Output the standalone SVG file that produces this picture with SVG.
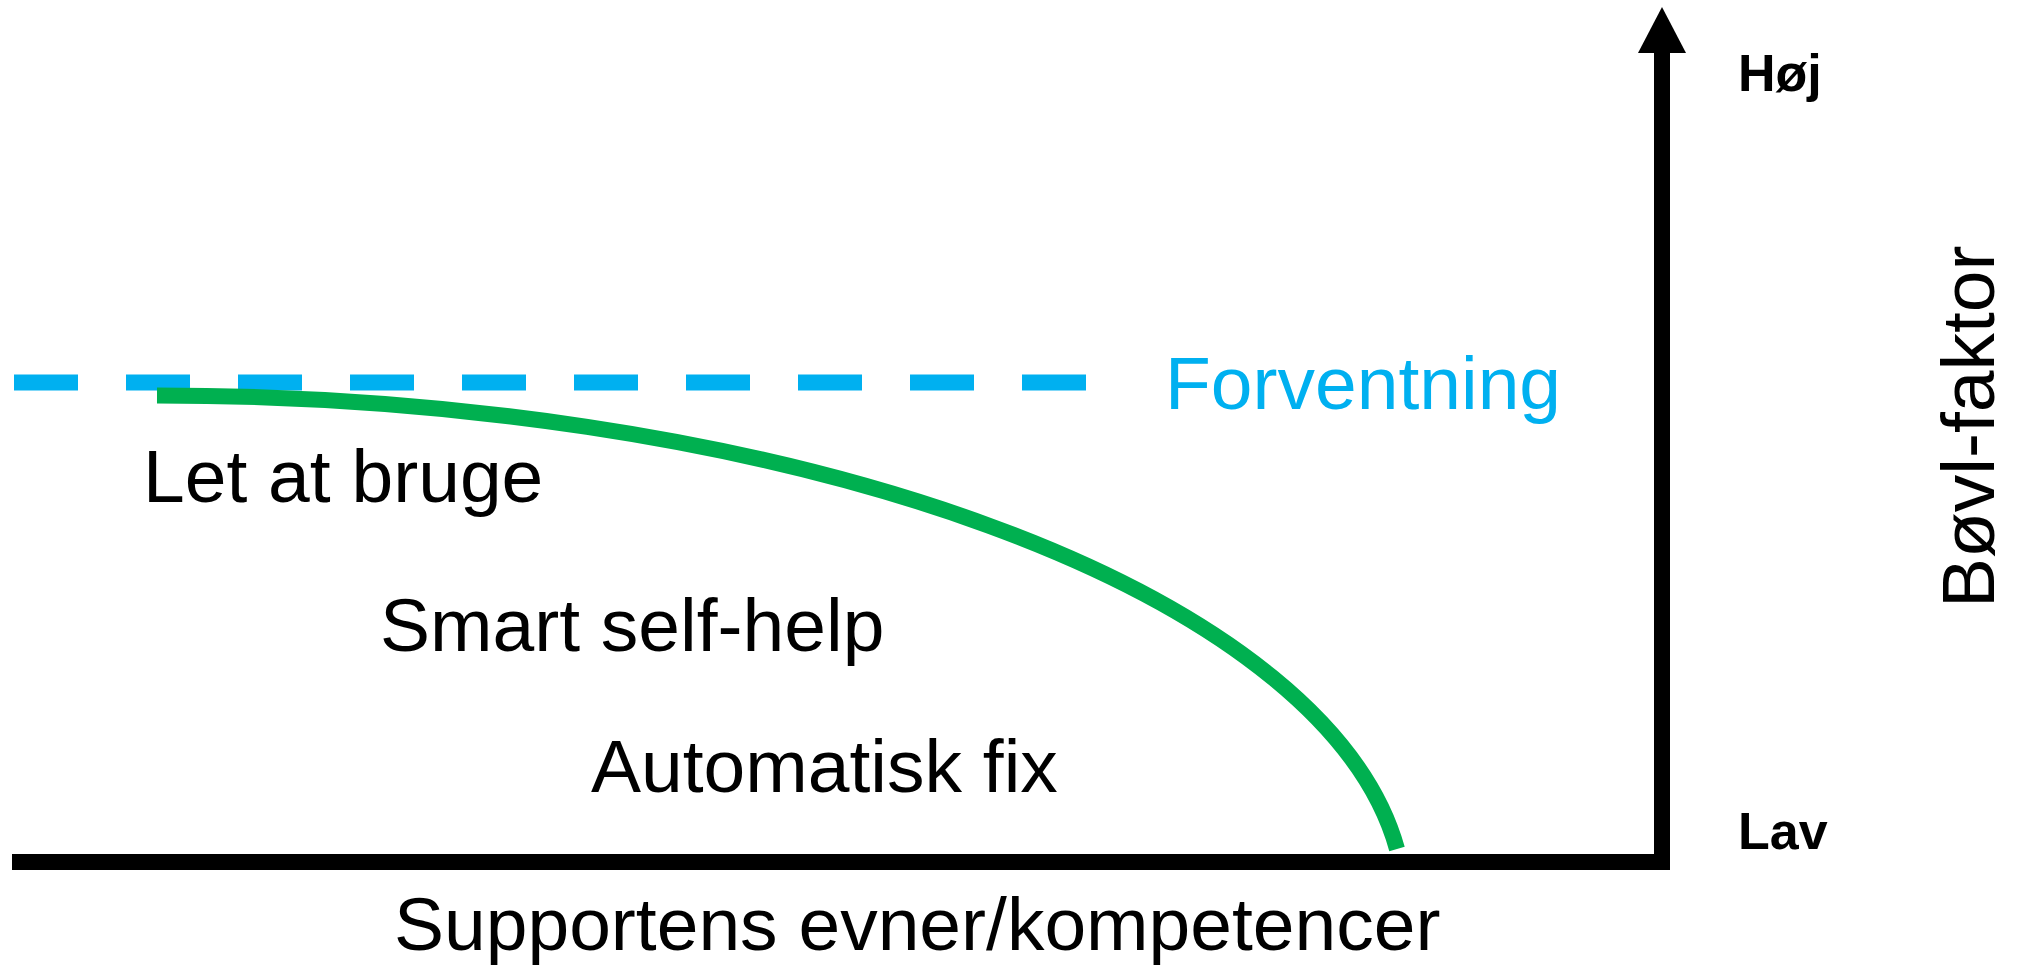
<svg xmlns="http://www.w3.org/2000/svg" width="2020" height="966" viewBox="0 0 2020 966">
<style>
.lbl{font-family:"Liberation Sans",Arial,sans-serif;font-size:75px;fill:#000}
.bold{font-family:"Liberation Sans",Arial,sans-serif;font-size:52px;font-weight:bold;fill:#000}
.axis{stroke:#000;stroke-width:16;fill:none}
</style>
<rect width="2020" height="966" fill="#fff"/>
<g id="connectors">
<line id="expectation-line" x1="14" y1="382.5" x2="1086" y2="382.5" stroke="#00B0F0" stroke-width="16" stroke-dasharray="64 48"/>
<path id="curve" d="M157,395.5 A1248,511 0 0 1 1397,849" fill="none" stroke="#00B050" stroke-width="16"/>
<line id="x-axis" class="axis" x1="12" y1="862" x2="1670" y2="862"/>
<line id="y-axis" class="axis" x1="1662" y1="862" x2="1662" y2="50"/>
<polygon id="y-arrow" points="1662,7 1686,53 1638,53" fill="#000"/>
</g>
<g id="forventning"><text x="1165" y="409" class="lbl" style="fill:#00B0F0">Forventning</text></g>
<g id="let-at-bruge"><text x="143" y="502" class="lbl">Let at bruge</text></g>
<g id="smart-self-help"><text x="380" y="651" class="lbl">Smart self-help</text></g>
<g id="automatisk-fix"><text x="591" y="792" class="lbl">Automatisk fix</text></g>
<g id="x-label"><text x="394" y="950" class="lbl">Supportens evner/kompetencer</text></g>
<g id="y-label"><text transform="translate(1994,608) rotate(-90)" class="lbl">Bøvl-faktor</text></g>
<g id="hoej"><text x="1738" y="91" class="bold">Høj</text></g>
<g id="lav"><text x="1738" y="849" class="bold">Lav</text></g>
</svg>
